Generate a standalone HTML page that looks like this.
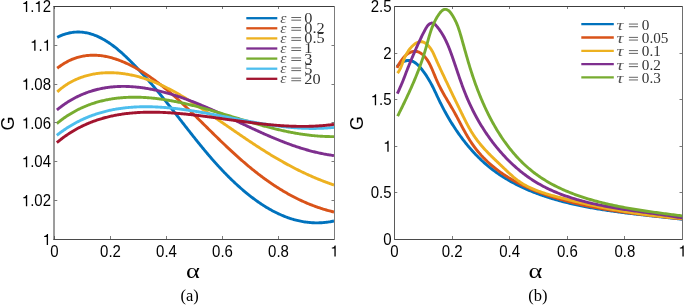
<!DOCTYPE html><html><head><meta charset="utf-8"><style>html,body{margin:0;padding:0;background:#fff;}svg{display:block;will-change:transform}</style></head><body><svg width="685" height="306" viewBox="0 0 685 306"><defs><clipPath id="cl"><rect x="54" y="6" width="280" height="233"/></clipPath><clipPath id="cr"><rect x="394" y="6" width="288" height="233"/></clipPath></defs><g clip-path="url(#cl)" fill="none" stroke-width="2.9" stroke-linejoin="round"><polyline stroke="#0072BD" points="57.24,37.35 58.45,36.75 59.66,36.19 60.85,35.67 62.05,35.18 63.24,34.73 64.42,34.32 65.60,33.94 66.77,33.60 67.94,33.30 69.10,33.02 70.26,32.79 71.41,32.58 72.55,32.41 73.70,32.27 74.83,32.17 75.96,32.09 77.09,32.05 78.21,32.03 79.33,32.05 80.44,32.09 81.55,32.17 82.65,32.27 83.74,32.40 84.83,32.56 85.92,32.74 87.00,32.95 88.08,33.19 89.15,33.45 90.22,33.73 91.28,34.04 92.33,34.38 93.39,34.74 94.43,35.12 95.48,35.52 96.51,35.95 97.54,36.39 98.57,36.86 99.60,37.34 100.61,37.85 101.63,38.38 102.64,38.92 103.64,39.48 104.64,40.06 105.63,40.66 106.62,41.28 107.61,41.91 108.59,42.55 109.56,43.22 110.53,43.89 111.50,44.58 112.46,45.29 113.42,46.00 114.37,46.73 115.32,47.47 116.26,48.23 117.20,48.99 118.14,49.77 119.07,50.55 119.99,51.35 120.91,52.15 121.83,52.96 122.74,53.78 123.65,54.61 124.55,55.45 125.45,56.29 126.34,57.14 127.23,57.99 128.12,58.85 129.00,59.71 129.88,60.58 130.75,61.45 131.62,62.32 132.48,63.20 133.34,64.08 134.19,64.96 135.04,65.84 135.89,66.72 136.73,67.61 137.57,68.49 138.41,69.38 139.24,70.27 140.07,71.16 140.89,72.05 141.71,72.94 142.52,73.84 143.34,74.73 144.15,75.63 144.95,76.53 145.75,77.43 146.55,78.33 147.35,79.23 148.14,80.14 148.93,81.04 149.72,81.95 150.50,82.85 151.29,83.76 152.06,84.67 152.84,85.58 153.61,86.49 154.38,87.41 155.15,88.32 155.92,89.23 156.68,90.15 157.44,91.06 158.20,91.98 158.96,92.90 159.72,93.82 160.47,94.74 161.22,95.66 161.97,96.58 162.72,97.50 163.46,98.42 164.21,99.35 164.95,100.27 165.69,101.20 166.43,102.12 167.17,103.05 167.91,103.97 168.64,104.90 169.38,105.83 170.11,106.75 170.84,107.68 171.58,108.61 172.31,109.54 173.04,110.47 173.77,111.40 174.50,112.33 175.22,113.26 175.95,114.19 176.68,115.12 177.41,116.05 178.13,116.99 178.86,117.92 179.59,118.85 180.31,119.78 181.04,120.71 181.76,121.65 182.49,122.58 183.22,123.51 183.94,124.44 184.67,125.38 185.40,126.31 186.13,127.24 186.86,128.17 187.58,129.10 188.31,130.04 189.04,130.97 189.78,131.90 190.51,132.83 191.24,133.76 191.97,134.69 192.71,135.61 193.44,136.54 194.18,137.47 194.92,138.39 195.65,139.32 196.39,140.24 197.13,141.17 197.88,142.09 198.62,143.01 199.36,143.93 200.11,144.85 200.86,145.76 201.61,146.68 202.36,147.59 203.11,148.51 203.87,149.42 204.62,150.33 205.38,151.23 206.14,152.14 206.90,153.05 207.67,153.95 208.43,154.85 209.20,155.75 209.97,156.65 210.74,157.54 211.52,158.43 212.29,159.33 213.07,160.21 213.86,161.10 214.64,161.99 215.43,162.87 216.22,163.75 217.01,164.62 217.80,165.50 218.60,166.37 219.40,167.24 220.21,168.11 221.01,168.97 221.82,169.83 222.63,170.69 223.45,171.55 224.27,172.40 225.09,173.25 225.92,174.09 226.74,174.94 227.58,175.78 228.41,176.61 229.25,177.45 230.09,178.28 230.94,179.10 231.79,179.93 232.64,180.75 233.50,181.56 234.36,182.38 235.22,183.19 236.09,183.99 236.97,184.79 237.84,185.59 238.72,186.38 239.61,187.17 240.50,187.96 241.39,188.74 242.29,189.52 243.19,190.29 244.10,191.06 245.01,191.82 245.92,192.59 246.84,193.34 247.77,194.09 248.70,194.84 249.63,195.58 250.57,196.31 251.51,197.04 252.46,197.76 253.41,198.48 254.36,199.19 255.32,199.89 256.28,200.59 257.25,201.28 258.22,201.96 259.20,202.63 260.18,203.30 261.17,203.96 262.16,204.61 263.15,205.26 264.15,205.89 265.15,206.52 266.16,207.14 267.17,207.75 268.18,208.35 269.20,208.94 270.22,209.52 271.25,210.10 272.28,210.66 273.32,211.21 274.36,211.75 275.40,212.29 276.45,212.81 277.50,213.32 278.56,213.82 279.62,214.30 280.69,214.78 281.76,215.25 282.83,215.70 283.91,216.14 284.99,216.57 286.08,216.99 287.16,217.39 288.26,217.78 289.36,218.16 290.46,218.52 291.56,218.88 292.67,219.21 293.79,219.54 294.91,219.85 296.03,220.15 297.16,220.43 298.29,220.70 299.42,220.95 300.56,221.19 301.70,221.41 302.85,221.62 304.00,221.81 305.15,221.98 306.31,222.15 307.47,222.29 308.64,222.42 309.81,222.53 310.98,222.62 312.16,222.70 313.34,222.76 314.52,222.81 315.71,222.83 316.91,222.84 318.10,222.83 319.30,222.80 320.51,222.76 321.72,222.70 322.93,222.61 324.15,222.51 325.37,222.39 326.59,222.25 327.82,222.09 329.05,221.91 330.29,221.72 331.52,221.50 332.77,221.26 334.01,221.00"/><polyline stroke="#D95319" points="57.23,68.26 58.23,67.48 59.23,66.72 60.24,65.99 61.25,65.28 62.26,64.60 63.27,63.95 64.29,63.32 65.31,62.72 66.33,62.15 67.35,61.60 68.38,61.07 69.40,60.57 70.43,60.09 71.46,59.64 72.49,59.21 73.52,58.80 74.56,58.42 75.59,58.06 76.63,57.72 77.67,57.40 78.71,57.11 79.75,56.84 80.79,56.59 81.84,56.36 82.88,56.16 83.92,55.97 84.97,55.81 86.01,55.66 87.06,55.54 88.11,55.44 89.16,55.35 90.20,55.29 91.25,55.24 92.30,55.21 93.35,55.21 94.39,55.22 95.44,55.25 96.49,55.29 97.54,55.36 98.59,55.44 99.63,55.54 100.68,55.65 101.72,55.78 102.77,55.93 103.81,56.10 104.86,56.28 105.90,56.48 106.94,56.69 107.98,56.92 109.02,57.16 110.06,57.41 111.10,57.68 112.14,57.97 113.17,58.27 114.21,58.58 115.24,58.91 116.27,59.25 117.30,59.60 118.32,59.96 119.35,60.34 120.37,60.73 121.39,61.13 122.41,61.54 123.43,61.97 124.44,62.40 125.45,62.85 126.46,63.31 127.47,63.77 128.48,64.25 129.48,64.74 130.48,65.23 131.47,65.74 132.47,66.25 133.46,66.78 134.45,67.31 135.43,67.85 136.41,68.40 137.39,68.95 138.36,69.52 139.34,70.09 140.30,70.67 141.27,71.25 142.23,71.84 143.18,72.44 144.14,73.05 145.09,73.66 146.03,74.27 146.97,74.89 147.91,75.52 148.84,76.15 149.77,76.78 150.70,77.42 151.62,78.07 152.54,78.72 153.45,79.37 154.36,80.03 155.27,80.70 156.17,81.36 157.07,82.04 157.96,82.71 158.86,83.39 159.74,84.08 160.63,84.77 161.51,85.46 162.39,86.16 163.27,86.86 164.14,87.56 165.01,88.27 165.88,88.98 166.74,89.69 167.61,90.41 168.47,91.13 169.32,91.86 170.18,92.58 171.03,93.31 171.88,94.05 172.72,94.78 173.57,95.52 174.41,96.27 175.25,97.01 176.08,97.76 176.92,98.51 177.75,99.26 178.58,100.02 179.41,100.77 180.24,101.53 181.06,102.29 181.89,103.06 182.71,103.82 183.53,104.59 184.35,105.36 185.16,106.13 185.98,106.91 186.79,107.68 187.60,108.46 188.41,109.23 189.22,110.01 190.03,110.79 190.84,111.58 191.65,112.36 192.45,113.14 193.25,113.93 194.06,114.71 194.86,115.50 195.66,116.29 196.46,117.08 197.26,117.87 198.06,118.65 198.86,119.44 199.66,120.24 200.46,121.03 201.26,121.82 202.05,122.61 202.85,123.40 203.65,124.19 204.44,124.98 205.24,125.77 206.04,126.56 206.83,127.36 207.63,128.15 208.43,128.94 209.23,129.73 210.02,130.51 210.82,131.30 211.62,132.09 212.42,132.88 213.22,133.66 214.01,134.45 214.81,135.23 215.61,136.01 216.42,136.80 217.22,137.58 218.02,138.36 218.82,139.14 219.62,139.91 220.43,140.69 221.23,141.47 222.04,142.24 222.85,143.01 223.65,143.78 224.46,144.55 225.27,145.32 226.08,146.09 226.89,146.85 227.70,147.62 228.51,148.38 229.33,149.14 230.14,149.90 230.96,150.65 231.77,151.41 232.59,152.16 233.41,152.91 234.23,153.66 235.05,154.41 235.87,155.15 236.70,155.89 237.52,156.63 238.35,157.37 239.18,158.11 240.01,158.84 240.84,159.57 241.67,160.30 242.50,161.02 243.34,161.75 244.18,162.47 245.01,163.19 245.85,163.90 246.70,164.61 247.54,165.32 248.38,166.03 249.23,166.74 250.08,167.44 250.93,168.14 251.78,168.83 252.64,169.52 253.49,170.21 254.35,170.90 255.21,171.58 256.07,172.26 256.93,172.94 257.80,173.61 258.67,174.28 259.54,174.95 260.41,175.61 261.28,176.27 262.16,176.92 263.04,177.58 263.92,178.22 264.80,178.87 265.69,179.51 266.58,180.15 267.47,180.78 268.36,181.41 269.25,182.04 270.15,182.66 271.05,183.27 271.95,183.89 272.86,184.50 273.76,185.10 274.67,185.70 275.59,186.30 276.50,186.89 277.42,187.48 278.34,188.06 279.26,188.64 280.19,189.22 281.12,189.79 282.05,190.35 282.98,190.92 283.92,191.47 284.86,192.02 285.80,192.57 286.75,193.11 287.70,193.65 288.65,194.18 289.61,194.71 290.57,195.23 291.53,195.75 292.49,196.26 293.46,196.77 294.43,197.27 295.41,197.77 296.38,198.26 297.37,198.74 298.35,199.22 299.34,199.70 300.33,200.17 301.32,200.63 302.32,201.09 303.32,201.54 304.33,201.99 305.34,202.43 306.35,202.87 307.36,203.30 308.38,203.72 309.41,204.14 310.43,204.55 311.46,204.96 312.50,205.36 313.54,205.75 314.58,206.14 315.62,206.52 316.67,206.90 317.73,207.27 318.78,207.63 319.84,207.99 320.91,208.34 321.98,208.68 323.05,209.02 324.13,209.35 325.21,209.67 326.30,209.99 327.39,210.30 328.48,210.61 329.58,210.91 330.68,211.20 331.79,211.48 332.90,211.76 334.02,212.03"/><polyline stroke="#EDB120" points="57.28,91.81 58.12,91.05 58.96,90.32 59.81,89.60 60.67,88.89 61.53,88.20 62.40,87.53 63.28,86.88 64.16,86.24 65.05,85.62 65.95,85.02 66.85,84.43 67.76,83.85 68.67,83.30 69.59,82.75 70.52,82.23 71.45,81.72 72.39,81.22 73.33,80.74 74.28,80.28 75.23,79.83 76.18,79.39 77.14,78.97 78.11,78.57 79.08,78.18 80.06,77.80 81.03,77.44 82.02,77.09 83.00,76.76 83.99,76.44 84.99,76.13 85.98,75.84 86.98,75.56 87.99,75.30 88.99,75.05 90.00,74.81 91.02,74.59 92.03,74.38 93.05,74.18 94.07,73.99 95.09,73.82 96.12,73.66 97.14,73.51 98.17,73.38 99.20,73.26 100.24,73.15 101.27,73.05 102.30,72.97 103.34,72.89 104.38,72.83 105.41,72.78 106.45,72.74 107.49,72.71 108.53,72.70 109.57,72.69 110.62,72.70 111.66,72.72 112.70,72.75 113.74,72.79 114.78,72.84 115.82,72.90 116.86,72.97 117.90,73.05 118.94,73.14 119.97,73.25 121.01,73.36 122.05,73.48 123.08,73.61 124.11,73.75 125.14,73.91 126.17,74.07 127.20,74.24 128.23,74.42 129.25,74.60 130.27,74.80 131.29,75.01 132.30,75.22 133.32,75.45 134.33,75.68 135.34,75.92 136.34,76.17 137.35,76.43 138.34,76.70 139.34,76.97 140.34,77.25 141.33,77.54 142.32,77.84 143.30,78.15 144.29,78.46 145.27,78.78 146.24,79.11 147.22,79.44 148.19,79.78 149.16,80.13 150.13,80.49 151.10,80.85 152.06,81.22 153.02,81.60 153.98,81.98 154.93,82.37 155.89,82.76 156.84,83.16 157.79,83.57 158.73,83.98 159.68,84.40 160.62,84.83 161.56,85.26 162.49,85.69 163.43,86.13 164.36,86.58 165.29,87.03 166.22,87.49 167.15,87.95 168.07,88.42 168.99,88.89 169.91,89.36 170.83,89.84 171.75,90.33 172.66,90.82 173.57,91.31 174.48,91.81 175.39,92.31 176.29,92.81 177.20,93.32 178.10,93.84 179.00,94.35 179.90,94.87 180.80,95.40 181.69,95.92 182.58,96.45 183.48,96.98 184.37,97.52 185.25,98.06 186.14,98.60 187.02,99.14 187.91,99.69 188.79,100.24 189.67,100.79 190.55,101.34 191.42,101.90 192.30,102.45 193.17,103.01 194.05,103.57 194.92,104.14 195.79,104.70 196.65,105.26 197.52,105.83 198.39,106.40 199.25,106.97 200.11,107.54 200.97,108.11 201.83,108.68 202.69,109.25 203.55,109.83 204.40,110.40 205.26,110.97 206.11,111.55 206.97,112.12 207.82,112.70 208.67,113.27 209.52,113.85 210.37,114.43 211.22,115.01 212.06,115.58 212.91,116.16 213.75,116.74 214.60,117.32 215.44,117.90 216.29,118.47 217.13,119.05 217.97,119.63 218.81,120.21 219.65,120.79 220.49,121.37 221.33,121.95 222.17,122.53 223.01,123.11 223.85,123.69 224.69,124.27 225.52,124.85 226.36,125.42 227.20,126.00 228.03,126.58 228.87,127.16 229.71,127.74 230.54,128.31 231.38,128.89 232.22,129.47 233.05,130.05 233.89,130.62 234.73,131.20 235.56,131.77 236.40,132.35 237.24,132.92 238.07,133.50 238.91,134.07 239.75,134.64 240.58,135.21 241.42,135.78 242.26,136.35 243.10,136.92 243.94,137.49 244.78,138.06 245.62,138.63 246.46,139.20 247.30,139.76 248.14,140.33 248.99,140.89 249.83,141.45 250.67,142.02 251.52,142.58 252.37,143.14 253.21,143.70 254.06,144.25 254.91,144.81 255.76,145.37 256.61,145.92 257.46,146.47 258.31,147.02 259.16,147.58 260.02,148.12 260.87,148.67 261.73,149.22 262.59,149.76 263.45,150.31 264.31,150.85 265.17,151.39 266.03,151.93 266.90,152.47 267.77,153.01 268.63,153.54 269.50,154.07 270.37,154.61 271.24,155.14 272.12,155.66 272.99,156.19 273.87,156.71 274.75,157.24 275.63,157.76 276.51,158.28 277.40,158.80 278.28,159.31 279.17,159.83 280.06,160.34 280.95,160.85 281.85,161.35 282.74,161.86 283.64,162.36 284.54,162.87 285.44,163.36 286.34,163.86 287.25,164.36 288.16,164.85 289.07,165.34 289.98,165.83 290.90,166.32 291.82,166.80 292.74,167.28 293.66,167.76 294.59,168.24 295.51,168.71 296.44,169.18 297.38,169.65 298.31,170.12 299.25,170.58 300.19,171.04 301.13,171.50 302.08,171.96 303.03,172.41 303.98,172.86 304.94,173.31 305.89,173.76 306.85,174.20 307.82,174.64 308.78,175.08 309.75,175.51 310.73,175.94 311.70,176.37 312.68,176.80 313.66,177.22 314.65,177.64 315.64,178.06 316.63,178.47 317.62,178.88 318.62,179.29 319.62,179.69 320.63,180.09 321.64,180.49 322.65,180.89 323.67,181.28 324.69,181.66 325.71,182.05 326.73,182.43 327.77,182.81 328.80,183.18 329.84,183.55 330.88,183.92 331.92,184.29 332.97,184.65 334.03,185.00"/><polyline stroke="#7E2F8E" points="56.83,109.99 57.69,109.30 58.54,108.61 59.40,107.94 60.26,107.28 61.12,106.63 61.99,105.99 62.85,105.36 63.72,104.75 64.59,104.14 65.46,103.55 66.34,102.97 67.21,102.40 68.09,101.84 68.97,101.30 69.85,100.76 70.73,100.24 71.62,99.72 72.50,99.22 73.39,98.73 74.28,98.24 75.17,97.77 76.07,97.31 76.96,96.86 77.86,96.42 78.76,95.99 79.65,95.57 80.56,95.17 81.46,94.77 82.36,94.38 83.27,94.00 84.18,93.63 85.09,93.28 86.00,92.93 86.91,92.59 87.82,92.26 88.73,91.94 89.65,91.63 90.57,91.33 91.49,91.04 92.41,90.76 93.33,90.49 94.25,90.23 95.17,89.98 96.10,89.74 97.02,89.50 97.95,89.28 98.88,89.06 99.81,88.85 100.74,88.66 101.67,88.47 102.60,88.29 103.53,88.11 104.47,87.95 105.40,87.80 106.34,87.65 107.28,87.51 108.22,87.38 109.16,87.26 110.10,87.15 111.04,87.05 111.98,86.95 112.92,86.86 113.86,86.78 114.81,86.71 115.75,86.64 116.70,86.59 117.64,86.54 118.59,86.50 119.54,86.46 120.49,86.44 121.44,86.42 122.39,86.41 123.34,86.40 124.29,86.41 125.24,86.42 126.19,86.44 127.14,86.46 128.09,86.49 129.05,86.53 130.00,86.58 130.95,86.63 131.91,86.69 132.86,86.76 133.82,86.83 134.77,86.91 135.73,87.00 136.68,87.09 137.64,87.19 138.60,87.29 139.55,87.40 140.51,87.52 141.47,87.65 142.42,87.78 143.38,87.91 144.34,88.05 145.30,88.20 146.25,88.36 147.21,88.52 148.17,88.68 149.13,88.85 150.08,89.03 151.04,89.21 152.00,89.40 152.95,89.59 153.91,89.79 154.87,89.99 155.83,90.20 156.78,90.42 157.74,90.63 158.69,90.86 159.65,91.09 160.61,91.32 161.56,91.56 162.52,91.80 163.47,92.05 164.43,92.30 165.38,92.56 166.33,92.82 167.29,93.09 168.24,93.36 169.19,93.63 170.14,93.91 171.10,94.20 172.05,94.48 173.00,94.77 173.95,95.07 174.89,95.37 175.84,95.67 176.79,95.98 177.74,96.29 178.69,96.60 179.63,96.92 180.58,97.24 181.52,97.57 182.46,97.90 183.41,98.23 184.35,98.56 185.29,98.90 186.23,99.24 187.17,99.59 188.11,99.94 189.05,100.29 189.98,100.64 190.92,101.00 191.85,101.35 192.79,101.72 193.72,102.08 194.65,102.45 195.58,102.82 196.51,103.19 197.44,103.56 198.37,103.94 199.30,104.32 200.23,104.70 201.15,105.09 202.08,105.47 203.00,105.86 203.93,106.25 204.85,106.64 205.77,107.04 206.69,107.43 207.62,107.83 208.54,108.23 209.46,108.63 210.38,109.03 211.29,109.44 212.21,109.85 213.13,110.25 214.05,110.66 214.96,111.07 215.88,111.49 216.79,111.90 217.71,112.31 218.62,112.73 219.53,113.15 220.45,113.56 221.36,113.98 222.27,114.40 223.18,114.82 224.10,115.24 225.01,115.67 225.92,116.09 226.83,116.51 227.74,116.94 228.65,117.36 229.56,117.79 230.46,118.22 231.37,118.64 232.28,119.07 233.19,119.50 234.10,119.92 235.00,120.35 235.91,120.78 236.82,121.21 237.73,121.63 238.63,122.06 239.54,122.49 240.45,122.92 241.35,123.35 242.26,123.77 243.16,124.20 244.07,124.63 244.98,125.05 245.88,125.48 246.79,125.90 247.69,126.33 248.60,126.75 249.51,127.17 250.41,127.60 251.32,128.02 252.22,128.44 253.13,128.86 254.04,129.28 254.94,129.69 255.85,130.11 256.75,130.53 257.66,130.94 258.57,131.35 259.48,131.77 260.38,132.18 261.29,132.58 262.20,132.99 263.11,133.40 264.01,133.80 264.92,134.21 265.83,134.61 266.74,135.01 267.65,135.40 268.56,135.80 269.47,136.19 270.38,136.58 271.29,136.97 272.20,137.36 273.11,137.75 274.02,138.13 274.94,138.51 275.85,138.89 276.76,139.27 277.68,139.64 278.59,140.01 279.51,140.38 280.42,140.75 281.34,141.11 282.25,141.47 283.17,141.83 284.09,142.19 285.01,142.54 285.93,142.89 286.85,143.24 287.77,143.58 288.69,143.92 289.61,144.26 290.53,144.60 291.45,144.93 292.38,145.26 293.30,145.58 294.23,145.90 295.15,146.22 296.08,146.53 297.01,146.84 297.94,147.15 298.86,147.45 299.79,147.75 300.73,148.05 301.66,148.34 302.59,148.63 303.52,148.92 304.46,149.20 305.39,149.47 306.33,149.74 307.27,150.01 308.21,150.27 309.15,150.53 310.09,150.79 311.03,151.04 311.97,151.29 312.91,151.53 313.86,151.76 314.80,152.00 315.75,152.23 316.70,152.45 317.65,152.67 318.60,152.88 319.55,153.09 320.50,153.29 321.46,153.49 322.41,153.68 323.37,153.87 324.32,154.06 325.28,154.23 326.24,154.41 327.20,154.57 328.17,154.74 329.13,154.89 330.10,155.04 331.06,155.19 332.03,155.33 333.00,155.46 333.97,155.59"/><polyline stroke="#77AC30" points="56.85,123.52 57.68,122.84 58.50,122.18 59.33,121.52 60.16,120.88 61.00,120.24 61.83,119.62 62.67,119.00 63.51,118.40 64.35,117.80 65.20,117.22 66.04,116.64 66.89,116.08 67.75,115.52 68.60,114.97 69.46,114.44 70.31,113.91 71.18,113.39 72.04,112.88 72.90,112.38 73.77,111.89 74.64,111.41 75.51,110.94 76.38,110.48 77.26,110.02 78.13,109.58 79.01,109.14 79.89,108.71 80.78,108.30 81.66,107.89 82.55,107.49 83.43,107.09 84.32,106.71 85.22,106.34 86.11,105.97 87.00,105.61 87.90,105.26 88.80,104.92 89.70,104.59 90.60,104.26 91.50,103.95 92.41,103.64 93.31,103.34 94.22,103.04 95.13,102.76 96.04,102.48 96.95,102.21 97.87,101.95 98.78,101.70 99.70,101.45 100.61,101.21 101.53,100.98 102.45,100.76 103.37,100.54 104.30,100.33 105.22,100.13 106.14,99.94 107.07,99.75 108.00,99.57 108.92,99.40 109.85,99.23 110.78,99.07 111.71,98.92 112.65,98.78 113.58,98.64 114.51,98.51 115.45,98.38 116.38,98.26 117.32,98.15 118.26,98.04 119.20,97.95 120.14,97.85 121.08,97.77 122.02,97.69 122.96,97.61 123.90,97.55 124.84,97.48 125.78,97.43 126.73,97.38 127.67,97.34 128.62,97.30 129.56,97.27 130.51,97.24 131.46,97.22 132.40,97.21 133.35,97.20 134.30,97.19 135.25,97.19 136.19,97.20 137.14,97.22 138.09,97.23 139.04,97.26 139.99,97.29 140.94,97.32 141.89,97.36 142.84,97.40 143.79,97.45 144.74,97.50 145.69,97.56 146.64,97.63 147.59,97.69 148.54,97.77 149.50,97.85 150.45,97.93 151.40,98.01 152.35,98.11 153.30,98.20 154.25,98.30 155.20,98.41 156.15,98.51 157.10,98.63 158.05,98.74 159.00,98.86 159.95,98.99 160.89,99.12 161.84,99.25 162.79,99.39 163.74,99.53 164.69,99.67 165.63,99.82 166.58,99.97 167.52,100.13 168.47,100.29 169.41,100.45 170.36,100.61 171.30,100.78 172.25,100.95 173.19,101.13 174.13,101.31 175.07,101.49 176.01,101.68 176.95,101.86 177.89,102.05 178.83,102.25 179.77,102.44 180.70,102.64 181.64,102.85 182.58,103.05 183.51,103.26 184.45,103.47 185.38,103.68 186.32,103.90 187.25,104.12 188.18,104.34 189.12,104.56 190.05,104.78 190.98,105.01 191.91,105.24 192.84,105.47 193.77,105.71 194.70,105.94 195.63,106.18 196.56,106.42 197.49,106.66 198.42,106.91 199.34,107.15 200.27,107.40 201.20,107.65 202.13,107.90 203.05,108.15 203.98,108.41 204.90,108.66 205.83,108.92 206.75,109.18 207.68,109.44 208.60,109.70 209.53,109.96 210.45,110.23 211.37,110.49 212.30,110.76 213.22,111.03 214.14,111.29 215.07,111.56 215.99,111.83 216.91,112.11 217.83,112.38 218.75,112.65 219.68,112.92 220.60,113.20 221.52,113.47 222.44,113.75 223.36,114.03 224.28,114.30 225.20,114.58 226.12,114.86 227.05,115.14 227.97,115.41 228.89,115.69 229.81,115.97 230.73,116.25 231.65,116.53 232.57,116.81 233.49,117.09 234.41,117.37 235.33,117.65 236.25,117.92 237.17,118.20 238.09,118.48 239.01,118.76 239.93,119.04 240.85,119.31 241.77,119.59 242.69,119.87 243.61,120.14 244.54,120.42 245.46,120.69 246.38,120.97 247.30,121.24 248.22,121.51 249.14,121.78 250.06,122.06 250.99,122.33 251.91,122.59 252.83,122.86 253.75,123.13 254.68,123.39 255.60,123.66 256.52,123.92 257.44,124.18 258.37,124.44 259.29,124.70 260.22,124.96 261.14,125.22 262.07,125.47 262.99,125.73 263.92,125.98 264.84,126.23 265.77,126.47 266.69,126.72 267.62,126.97 268.55,127.21 269.48,127.45 270.40,127.69 271.33,127.92 272.26,128.16 273.19,128.39 274.12,128.62 275.05,128.85 275.98,129.08 276.91,129.30 277.84,129.52 278.77,129.74 279.71,129.96 280.64,130.17 281.57,130.38 282.51,130.59 283.44,130.79 284.38,131.00 285.31,131.20 286.25,131.40 287.18,131.59 288.12,131.78 289.06,131.97 290.00,132.16 290.94,132.34 291.88,132.52 292.82,132.70 293.76,132.87 294.70,133.04 295.64,133.21 296.58,133.37 297.53,133.53 298.47,133.68 299.42,133.84 300.36,133.99 301.31,134.13 302.25,134.27 303.20,134.41 304.15,134.55 305.10,134.68 306.05,134.81 307.00,134.93 307.95,135.05 308.90,135.16 309.86,135.27 310.81,135.38 311.77,135.48 312.72,135.58 313.68,135.68 314.64,135.77 315.59,135.85 316.55,135.93 317.51,136.01 318.47,136.08 319.44,136.15 320.40,136.21 321.36,136.27 322.33,136.32 323.29,136.37 324.26,136.42 325.23,136.46 326.19,136.49 327.16,136.52 328.13,136.55 329.11,136.57 330.08,136.58 331.05,136.59 332.03,136.59 333.00,136.59 333.98,136.58"/><polyline stroke="#4DBEEE" points="56.84,135.31 57.67,134.66 58.50,134.02 59.33,133.39 60.16,132.76 61.00,132.15 61.83,131.54 62.67,130.95 63.51,130.36 64.35,129.78 65.20,129.20 66.04,128.64 66.89,128.09 67.74,127.54 68.59,127.00 69.44,126.47 70.29,125.95 71.15,125.44 72.01,124.93 72.87,124.43 73.73,123.95 74.59,123.46 75.45,122.99 76.32,122.53 77.18,122.07 78.05,121.62 78.92,121.18 79.79,120.75 80.66,120.32 81.54,119.90 82.41,119.49 83.29,119.09 84.17,118.69 85.05,118.30 85.93,117.92 86.81,117.55 87.70,117.18 88.58,116.82 89.47,116.47 90.36,116.13 91.25,115.79 92.14,115.46 93.03,115.14 93.92,114.82 94.82,114.51 95.71,114.21 96.61,113.91 97.51,113.62 98.41,113.34 99.31,113.07 100.21,112.80 101.11,112.53 102.02,112.28 102.92,112.03 103.83,111.79 104.74,111.55 105.64,111.32 106.55,111.10 107.46,110.88 108.37,110.67 109.29,110.46 110.20,110.26 111.11,110.07 112.03,109.88 112.95,109.70 113.86,109.53 114.78,109.36 115.70,109.19 116.62,109.03 117.54,108.88 118.46,108.73 119.38,108.59 120.31,108.46 121.23,108.33 122.15,108.20 123.08,108.09 124.00,107.97 124.93,107.86 125.86,107.76 126.79,107.66 127.72,107.57 128.65,107.48 129.58,107.40 130.51,107.32 131.44,107.25 132.37,107.18 133.30,107.12 134.23,107.06 135.17,107.01 136.10,106.96 137.04,106.92 137.97,106.88 138.91,106.84 139.84,106.81 140.78,106.79 141.72,106.77 142.66,106.75 143.59,106.74 144.53,106.73 145.47,106.73 146.41,106.73 147.35,106.73 148.29,106.74 149.23,106.75 150.17,106.77 151.11,106.79 152.05,106.81 152.99,106.84 153.93,106.87 154.87,106.91 155.82,106.95 156.76,106.99 157.70,107.04 158.64,107.09 159.59,107.15 160.53,107.20 161.47,107.26 162.41,107.33 163.36,107.40 164.30,107.47 165.24,107.54 166.19,107.62 167.13,107.70 168.07,107.78 169.02,107.87 169.96,107.96 170.90,108.05 171.84,108.15 172.79,108.25 173.73,108.35 174.67,108.45 175.62,108.56 176.56,108.67 177.50,108.78 178.44,108.89 179.39,109.01 180.33,109.13 181.27,109.25 182.21,109.38 183.15,109.50 184.10,109.63 185.04,109.76 185.98,109.89 186.92,110.03 187.86,110.17 188.80,110.31 189.74,110.45 190.69,110.59 191.63,110.74 192.57,110.88 193.51,111.03 194.45,111.18 195.39,111.34 196.33,111.49 197.27,111.65 198.21,111.80 199.15,111.96 200.10,112.12 201.04,112.28 201.98,112.45 202.92,112.61 203.86,112.78 204.80,112.94 205.74,113.11 206.68,113.28 207.62,113.45 208.56,113.62 209.50,113.80 210.44,113.97 211.38,114.15 212.32,114.32 213.26,114.50 214.20,114.67 215.14,114.85 216.08,115.03 217.02,115.21 217.96,115.39 218.90,115.57 219.84,115.75 220.78,115.93 221.72,116.11 222.66,116.30 223.60,116.48 224.54,116.66 225.48,116.84 226.42,117.03 227.36,117.21 228.30,117.39 229.24,117.58 230.18,117.76 231.12,117.94 232.06,118.13 233.00,118.31 233.94,118.49 234.88,118.68 235.82,118.86 236.76,119.04 237.70,119.22 238.64,119.40 239.58,119.58 240.52,119.77 241.46,119.95 242.40,120.12 243.34,120.30 244.28,120.48 245.22,120.66 246.16,120.83 247.10,121.01 248.04,121.18 248.98,121.36 249.92,121.53 250.86,121.70 251.80,121.87 252.74,122.04 253.68,122.21 254.62,122.38 255.56,122.54 256.50,122.71 257.44,122.87 258.38,123.03 259.33,123.20 260.27,123.35 261.21,123.51 262.15,123.67 263.09,123.82 264.03,123.97 264.97,124.13 265.91,124.27 266.85,124.42 267.79,124.57 268.74,124.71 269.68,124.85 270.62,124.99 271.56,125.13 272.50,125.27 273.44,125.40 274.39,125.53 275.33,125.66 276.27,125.79 277.21,125.91 278.16,126.03 279.10,126.15 280.04,126.27 280.98,126.38 281.92,126.50 282.87,126.60 283.81,126.71 284.75,126.82 285.70,126.92 286.64,127.02 287.58,127.11 288.53,127.20 289.47,127.29 290.41,127.38 291.36,127.47 292.30,127.55 293.24,127.62 294.19,127.70 295.13,127.77 296.08,127.84 297.02,127.90 297.97,127.97 298.91,128.02 299.86,128.08 300.80,128.13 301.75,128.18 302.69,128.22 303.64,128.26 304.58,128.30 305.53,128.33 306.47,128.36 307.42,128.39 308.37,128.41 309.31,128.43 310.26,128.44 311.20,128.45 312.15,128.46 313.10,128.46 314.04,128.46 314.99,128.45 315.94,128.44 316.89,128.42 317.83,128.40 318.78,128.38 319.73,128.35 320.68,128.32 321.63,128.28 322.58,128.24 323.52,128.20 324.47,128.15 325.42,128.09 326.37,128.03 327.32,127.96 328.27,127.89 329.22,127.82 330.17,127.74 331.12,127.66 332.07,127.57 333.02,127.47 333.97,127.37"/><polyline stroke="#A2142F" points="56.87,142.62 57.67,141.96 58.47,141.30 59.27,140.65 60.07,140.01 60.88,139.38 61.69,138.75 62.50,138.14 63.31,137.54 64.13,136.94 64.95,136.35 65.77,135.77 66.59,135.20 67.41,134.64 68.24,134.09 69.07,133.54 69.90,133.00 70.73,132.48 71.57,131.96 72.41,131.44 73.25,130.94 74.09,130.44 74.93,129.96 75.78,129.48 76.62,129.00 77.47,128.54 78.32,128.08 79.18,127.63 80.03,127.19 80.89,126.76 81.75,126.33 82.61,125.92 83.47,125.50 84.34,125.10 85.20,124.71 86.07,124.32 86.94,123.94 87.81,123.56 88.68,123.19 89.56,122.83 90.43,122.48 91.31,122.14 92.19,121.80 93.07,121.47 93.96,121.14 94.84,120.82 95.73,120.51 96.61,120.21 97.50,119.91 98.39,119.62 99.29,119.33 100.18,119.05 101.07,118.78 101.97,118.52 102.87,118.26 103.77,118.00 104.67,117.76 105.57,117.52 106.47,117.28 107.38,117.05 108.28,116.83 109.19,116.61 110.10,116.40 111.01,116.20 111.92,116.00 112.83,115.81 113.74,115.62 114.66,115.44 115.57,115.26 116.49,115.09 117.40,114.92 118.32,114.76 119.24,114.61 120.16,114.46 121.09,114.32 122.01,114.18 122.93,114.05 123.86,113.92 124.78,113.79 125.71,113.68 126.64,113.56 127.56,113.45 128.49,113.35 129.42,113.25 130.35,113.16 131.29,113.07 132.22,112.98 133.15,112.90 134.08,112.83 135.02,112.76 135.95,112.69 136.89,112.63 137.83,112.57 138.76,112.52 139.70,112.47 140.64,112.42 141.58,112.38 142.52,112.35 143.46,112.31 144.40,112.29 145.34,112.26 146.29,112.24 147.23,112.22 148.17,112.21 149.11,112.20 150.06,112.19 151.00,112.19 151.95,112.19 152.89,112.20 153.84,112.20 154.78,112.21 155.73,112.23 156.68,112.25 157.62,112.27 158.57,112.29 159.52,112.32 160.46,112.35 161.41,112.38 162.36,112.42 163.31,112.46 164.25,112.50 165.20,112.55 166.15,112.60 167.10,112.65 168.05,112.70 169.00,112.76 169.94,112.82 170.89,112.88 171.84,112.94 172.79,113.01 173.74,113.07 174.69,113.14 175.64,113.22 176.58,113.29 177.53,113.37 178.48,113.45 179.43,113.53 180.38,113.61 181.32,113.70 182.27,113.78 183.22,113.87 184.17,113.97 185.12,114.06 186.06,114.15 187.01,114.25 187.96,114.35 188.91,114.45 189.85,114.55 190.80,114.65 191.75,114.76 192.70,114.86 193.64,114.97 194.59,115.08 195.54,115.19 196.48,115.30 197.43,115.41 198.38,115.53 199.33,115.64 200.27,115.76 201.22,115.88 202.17,116.00 203.11,116.12 204.06,116.24 205.01,116.36 205.96,116.48 206.90,116.61 207.85,116.73 208.80,116.86 209.74,116.98 210.69,117.11 211.64,117.24 212.58,117.37 213.53,117.49 214.48,117.62 215.42,117.75 216.37,117.88 217.32,118.01 218.26,118.15 219.21,118.28 220.16,118.41 221.10,118.54 222.05,118.67 223.00,118.81 223.94,118.94 224.89,119.07 225.84,119.21 226.78,119.34 227.73,119.47 228.68,119.60 229.62,119.74 230.57,119.87 231.52,120.00 232.46,120.13 233.41,120.27 234.36,120.40 235.30,120.53 236.25,120.66 237.19,120.79 238.14,120.92 239.09,121.05 240.03,121.18 240.98,121.31 241.93,121.43 242.87,121.56 243.82,121.69 244.77,121.81 245.71,121.94 246.66,122.06 247.61,122.18 248.56,122.31 249.50,122.43 250.45,122.55 251.40,122.67 252.34,122.78 253.29,122.90 254.24,123.02 255.18,123.13 256.13,123.25 257.08,123.36 258.02,123.47 258.97,123.58 259.92,123.68 260.87,123.79 261.81,123.90 262.76,124.00 263.71,124.10 264.66,124.20 265.60,124.30 266.55,124.40 267.50,124.49 268.44,124.58 269.39,124.68 270.34,124.77 271.29,124.85 272.24,124.94 273.18,125.02 274.13,125.10 275.08,125.18 276.03,125.26 276.97,125.34 277.92,125.41 278.87,125.48 279.82,125.55 280.77,125.61 281.71,125.68 282.66,125.74 283.61,125.80 284.56,125.85 285.51,125.91 286.46,125.96 287.41,126.01 288.35,126.06 289.30,126.10 290.25,126.14 291.20,126.18 292.15,126.21 293.10,126.24 294.05,126.27 295.00,126.30 295.95,126.32 296.90,126.34 297.84,126.36 298.79,126.38 299.74,126.39 300.69,126.39 301.64,126.40 302.59,126.40 303.54,126.40 304.49,126.39 305.44,126.38 306.39,126.37 307.34,126.36 308.29,126.34 309.24,126.32 310.19,126.29 311.14,126.26 312.10,126.23 313.05,126.19 314.00,126.15 314.95,126.10 315.90,126.05 316.85,126.00 317.80,125.94 318.75,125.88 319.70,125.82 320.66,125.75 321.61,125.68 322.56,125.60 323.51,125.52 324.46,125.44 325.42,125.35 326.37,125.25 327.32,125.15 328.27,125.05 329.22,124.94 330.18,124.83 331.13,124.72 332.08,124.60 333.04,124.47 333.99,124.34"/></g><g clip-path="url(#cr)" fill="none" stroke-width="2.9" stroke-linejoin="round"><polyline stroke="#0072BD" points="396.99,66.47 397.74,65.65 398.57,64.84 399.49,64.07 400.47,63.34 401.52,62.66 402.60,62.05 403.73,61.52 404.88,61.08 406.04,60.74 407.20,60.52 408.35,60.43 409.49,60.47 410.60,60.65 411.69,60.96 412.76,61.38 413.81,61.91 414.83,62.53 415.82,63.24 416.80,64.02 417.75,64.87 418.67,65.78 419.57,66.73 420.44,67.72 421.29,68.74 422.11,69.77 422.91,70.81 423.68,71.85 424.42,72.88 425.14,73.90 425.83,74.92 426.51,75.93 427.16,76.93 427.78,77.93 428.39,78.93 428.98,79.91 429.56,80.90 430.11,81.88 430.66,82.85 431.18,83.82 431.70,84.79 432.20,85.76 432.69,86.72 433.18,87.68 433.65,88.64 434.12,89.60 434.58,90.55 435.03,91.51 435.48,92.46 435.93,93.42 436.38,94.37 436.82,95.32 437.27,96.28 437.71,97.24 438.16,98.19 438.61,99.15 439.07,100.11 439.54,101.08 440.00,102.04 440.48,103.01 440.96,103.98 441.45,104.96 441.95,105.93 442.45,106.91 442.96,107.89 443.48,108.87 444.00,109.85 444.53,110.83 445.06,111.81 445.60,112.80 446.15,113.78 446.70,114.77 447.26,115.75 447.83,116.74 448.40,117.72 448.98,118.71 449.57,119.69 450.16,120.68 450.76,121.66 451.36,122.65 451.97,123.63 452.59,124.61 453.21,125.59 453.84,126.57 454.48,127.54 455.12,128.52 455.77,129.49 456.42,130.46 457.08,131.43 457.75,132.39 458.42,133.36 459.10,134.32 459.79,135.27 460.48,136.23 461.18,137.18 461.88,138.13 462.59,139.07 463.31,140.01 464.03,140.94 464.76,141.88 465.49,142.80 466.23,143.73 466.98,144.65 467.73,145.56 468.49,146.47 469.25,147.37 470.02,148.27 470.80,149.16 471.58,150.05 472.37,150.93 473.17,151.81 473.97,152.68 474.77,153.54 475.58,154.40 476.40,155.25 477.23,156.09 478.06,156.93 478.89,157.76 479.73,158.58 480.58,159.39 481.43,160.20 482.29,161.00 483.16,161.79 484.03,162.58 484.91,163.35 485.79,164.12 486.68,164.88 487.57,165.63 488.47,166.37 489.37,167.11 490.28,167.84 491.20,168.56 492.12,169.27 493.05,169.97 493.98,170.67 494.92,171.36 495.86,172.04 496.81,172.71 497.76,173.37 498.72,174.03 499.68,174.68 500.65,175.33 501.62,175.96 502.60,176.59 503.58,177.21 504.57,177.82 505.56,178.43 506.56,179.03 507.56,179.62 508.56,180.21 509.57,180.79 510.59,181.36 511.61,181.93 512.63,182.49 513.66,183.04 514.69,183.58 515.73,184.12 516.77,184.65 517.81,185.18 518.86,185.70 519.91,186.21 520.97,186.72 522.03,187.22 523.09,187.71 524.16,188.20 525.23,188.68 526.31,189.16 527.39,189.62 528.47,190.09 529.55,190.55 530.64,191.00 531.74,191.44 532.83,191.88 533.93,192.32 535.04,192.75 536.14,193.17 537.25,193.59 538.37,194.00 539.48,194.41 540.60,194.81 541.72,195.20 542.85,195.60 543.98,195.98 545.11,196.36 546.24,196.74 547.38,197.11 548.52,197.47 549.66,197.83 550.80,198.19 551.95,198.54 553.10,198.88 554.25,199.22 555.40,199.56 556.56,199.89 557.72,200.22 558.88,200.54 560.04,200.86 561.21,201.17 562.38,201.48 563.55,201.78 564.72,202.08 565.89,202.38 567.07,202.67 568.25,202.96 569.42,203.24 570.61,203.52 571.79,203.80 572.97,204.07 574.16,204.34 575.35,204.60 576.53,204.86 577.73,205.12 578.92,205.37 580.11,205.62 581.30,205.87 582.50,206.11 583.70,206.35 584.89,206.58 586.09,206.82 587.29,207.04 588.50,207.27 589.70,207.49 590.90,207.71 592.10,207.93 593.31,208.14 594.51,208.35 595.72,208.56 596.93,208.76 598.13,208.96 599.34,209.16 600.55,209.36 601.76,209.55 602.97,209.74 604.18,209.93 605.39,210.11 606.60,210.30 607.81,210.48 609.02,210.66 610.23,210.83 611.44,211.01 612.65,211.18 613.86,211.35 615.07,211.52 616.28,211.68 617.49,211.84 618.70,212.01 619.91,212.17 621.12,212.32 622.33,212.48 623.54,212.63 624.75,212.79 625.95,212.94 627.16,213.09 628.37,213.23 629.57,213.38 630.78,213.53 631.98,213.67 633.18,213.81 634.39,213.95 635.59,214.09 636.79,214.23 637.99,214.37 639.18,214.51 640.38,214.64 641.58,214.78 642.77,214.91 643.96,215.04 645.15,215.18 646.34,215.31 647.53,215.44 648.72,215.57 649.91,215.70 651.09,215.83 652.27,215.96 653.45,216.08 654.63,216.21 655.81,216.34 656.98,216.47 658.16,216.59 659.33,216.72 660.50,216.85 661.67,216.98 662.83,217.10 663.99,217.23 665.16,217.36 666.31,217.48 667.47,217.61 668.62,217.74 669.78,217.87 670.92,218.00 672.07,218.12 673.22,218.25 674.36,218.38 675.50,218.51 676.63,218.64 677.76,218.78 678.90,218.91 680.02,219.04 681.15,219.18 682.27,219.31"/><polyline stroke="#D95319" points="397.01,67.81 397.41,67.03 397.87,66.16 398.39,65.21 398.97,64.19 399.61,63.11 400.30,62.01 401.05,60.88 401.84,59.76 402.69,58.65 403.58,57.56 404.53,56.53 405.51,55.55 406.54,54.66 407.61,53.86 408.71,53.15 409.84,52.55 410.99,52.06 412.15,51.69 413.31,51.44 414.46,51.31 415.61,51.32 416.74,51.46 417.84,51.74 418.91,52.16 419.94,52.68 420.94,53.30 421.90,54.00 422.81,54.76 423.69,55.57 424.53,56.44 425.33,57.36 426.09,58.33 426.83,59.33 427.53,60.38 428.20,61.46 428.85,62.57 429.48,63.72 430.08,64.88 430.67,66.07 431.23,67.27 431.78,68.49 432.32,69.72 432.84,70.95 433.36,72.19 433.86,73.43 434.37,74.66 434.87,75.89 435.36,77.10 435.86,78.30 436.36,79.48 436.87,80.64 437.38,81.78 437.90,82.90 438.42,84.00 438.94,85.09 439.47,86.16 440.00,87.21 440.54,88.25 441.07,89.27 441.62,90.29 442.16,91.29 442.71,92.29 443.26,93.27 443.81,94.25 444.37,95.22 444.92,96.18 445.48,97.14 446.05,98.10 446.61,99.05 447.17,100.00 447.74,100.95 448.31,101.90 448.87,102.85 449.44,103.81 450.01,104.76 450.58,105.72 451.15,106.69 451.73,107.66 452.30,108.65 452.87,109.64 453.44,110.63 454.01,111.64 454.58,112.67 455.15,113.70 455.72,114.74 456.28,115.80 456.85,116.86 457.42,117.93 458.00,119.01 458.57,120.10 459.14,121.19 459.72,122.29 460.30,123.40 460.89,124.50 461.47,125.61 462.06,126.72 462.66,127.84 463.26,128.95 463.86,130.06 464.47,131.17 465.09,132.28 465.71,133.39 466.34,134.49 466.98,135.59 467.62,136.68 468.27,137.77 468.93,138.85 469.59,139.92 470.27,140.98 470.95,142.04 471.65,143.08 472.35,144.11 473.07,145.13 473.79,146.14 474.52,147.14 475.27,148.13 476.02,149.10 476.78,150.07 477.55,151.02 478.33,151.97 479.12,152.90 479.92,153.82 480.73,154.73 481.54,155.64 482.37,156.53 483.20,157.41 484.04,158.28 484.89,159.14 485.75,159.99 486.62,160.83 487.49,161.67 488.37,162.49 489.26,163.30 490.16,164.10 491.07,164.89 491.98,165.68 492.90,166.45 493.83,167.22 494.77,167.97 495.71,168.72 496.66,169.46 497.61,170.18 498.58,170.90 499.55,171.61 500.53,172.31 501.51,173.01 502.50,173.69 503.50,174.37 504.50,175.03 505.51,175.69 506.52,176.34 507.54,176.99 508.57,177.62 509.60,178.25 510.64,178.87 511.69,179.48 512.73,180.08 513.79,180.67 514.85,181.26 515.92,181.84 516.99,182.41 518.06,182.97 519.14,183.53 520.23,184.08 521.32,184.62 522.41,185.16 523.51,185.69 524.61,186.21 525.72,186.72 526.83,187.23 527.95,187.73 529.07,188.22 530.19,188.71 531.32,189.19 532.45,189.66 533.59,190.13 534.73,190.59 535.87,191.05 537.01,191.50 538.16,191.94 539.31,192.38 540.47,192.81 541.63,193.23 542.79,193.65 543.95,194.06 545.11,194.47 546.28,194.87 547.45,195.27 548.63,195.66 549.80,196.05 550.98,196.43 552.16,196.81 553.34,197.18 554.52,197.54 555.71,197.90 556.89,198.26 558.08,198.61 559.27,198.96 560.46,199.30 561.65,199.63 562.85,199.97 564.04,200.30 565.24,200.62 566.43,200.94 567.63,201.26 568.83,201.57 570.03,201.87 571.22,202.18 572.42,202.48 573.63,202.77 574.83,203.06 576.03,203.35 577.23,203.63 578.44,203.91 579.64,204.19 580.85,204.46 582.05,204.73 583.26,205.00 584.47,205.26 585.68,205.52 586.88,205.77 588.09,206.02 589.30,206.27 590.51,206.51 591.73,206.76 592.94,206.99 594.15,207.23 595.36,207.46 596.58,207.69 597.79,207.91 599.01,208.14 600.22,208.36 601.44,208.57 602.65,208.79 603.87,209.00 605.09,209.21 606.31,209.41 607.53,209.62 608.74,209.82 609.96,210.02 611.18,210.21 612.40,210.41 613.62,210.60 614.85,210.78 616.07,210.97 617.29,211.15 618.51,211.34 619.73,211.52 620.96,211.69 622.18,211.87 623.40,212.04 624.63,212.21 625.85,212.38 627.08,212.55 628.30,212.72 629.53,212.88 630.75,213.04 631.98,213.20 633.20,213.36 634.43,213.52 635.65,213.67 636.88,213.83 638.11,213.98 639.33,214.13 640.56,214.28 641.79,214.43 643.02,214.58 644.24,214.72 645.47,214.87 646.70,215.01 647.93,215.16 649.15,215.30 650.38,215.44 651.61,215.58 652.84,215.72 654.07,215.85 655.29,215.99 656.52,216.13 657.75,216.26 658.98,216.40 660.21,216.53 661.43,216.67 662.66,216.80 663.89,216.93 665.12,217.07 666.35,217.20 667.57,217.33 668.80,217.46 670.03,217.59 671.26,217.73 672.49,217.86 673.71,217.99 674.94,218.12 676.17,218.25 677.39,218.38 678.62,218.51 679.85,218.64 681.07,218.77 682.30,218.91"/><polyline stroke="#EDB120" points="397.50,73.19 398.28,72.12 398.97,71.05 399.60,69.96 400.16,68.87 400.68,67.77 401.16,66.66 401.61,65.54 402.04,64.41 402.46,63.27 402.88,62.11 403.31,60.95 403.76,59.77 404.24,58.58 404.75,57.38 405.31,56.16 405.93,54.93 406.61,53.68 407.36,52.42 408.17,51.18 409.04,49.95 409.95,48.75 410.92,47.61 411.92,46.52 412.96,45.51 414.03,44.59 415.12,43.77 416.23,43.06 417.35,42.49 418.48,42.06 419.62,41.78 420.75,41.68 421.87,41.75 422.98,42.02 424.08,42.45 425.15,43.04 426.19,43.76 427.20,44.60 428.16,45.54 429.09,46.56 429.97,47.66 430.79,48.80 431.55,49.98 432.25,51.18 432.90,52.39 433.50,53.61 434.06,54.83 434.60,56.05 435.13,57.26 435.65,58.47 436.18,59.67 436.70,60.86 437.23,62.04 437.76,63.22 438.30,64.39 438.83,65.56 439.37,66.73 439.91,67.90 440.46,69.07 441.00,70.25 441.55,71.42 442.11,72.60 442.67,73.79 443.23,74.98 443.80,76.18 444.37,77.39 444.94,78.60 445.52,79.81 446.10,81.03 446.67,82.24 447.25,83.45 447.82,84.66 448.39,85.86 448.96,87.05 449.53,88.23 450.09,89.40 450.64,90.56 451.19,91.71 451.73,92.83 452.26,93.94 452.79,95.03 453.30,96.09 453.80,97.14 454.29,98.15 454.77,99.14 455.24,100.10 455.69,101.03 456.14,101.94 456.57,102.83 457.00,103.70 457.42,104.56 457.83,105.41 458.25,106.26 458.66,107.10 459.08,107.95 459.50,108.80 459.92,109.66 460.35,110.54 460.79,111.43 461.24,112.35 461.70,113.29 462.18,114.26 462.67,115.26 463.18,116.29 463.70,117.35 464.23,118.44 464.79,119.54 465.35,120.67 465.94,121.82 466.53,122.98 467.15,124.15 467.77,125.33 468.42,126.51 469.07,127.70 469.74,128.89 470.43,130.08 471.12,131.27 471.84,132.44 472.56,133.61 473.30,134.76 474.06,135.89 474.82,137.01 475.60,138.12 476.40,139.21 477.20,140.29 478.01,141.35 478.84,142.40 479.67,143.43 480.51,144.46 481.37,145.47 482.23,146.47 483.10,147.46 483.97,148.44 484.85,149.41 485.74,150.37 486.63,151.32 487.53,152.26 488.43,153.19 489.34,154.12 490.25,155.03 491.16,155.94 492.08,156.85 493.00,157.74 493.91,158.64 494.83,159.52 495.75,160.41 496.67,161.28 497.58,162.16 498.50,163.03 499.41,163.89 500.32,164.76 501.23,165.62 502.13,166.48 503.03,167.34 503.93,168.20 504.82,169.06 505.71,169.91 506.61,170.76 507.50,171.60 508.39,172.44 509.29,173.27 510.19,174.09 511.09,174.91 512.00,175.71 512.92,176.51 513.84,177.30 514.78,178.07 515.72,178.83 516.68,179.58 517.64,180.32 518.62,181.03 519.62,181.74 520.63,182.43 521.65,183.10 522.69,183.75 523.75,184.38 524.83,185.00 525.92,185.60 527.03,186.19 528.15,186.76 529.28,187.31 530.43,187.85 531.59,188.38 532.76,188.89 533.95,189.39 535.14,189.87 536.35,190.35 537.56,190.81 538.78,191.26 540.02,191.70 541.26,192.13 542.51,192.56 543.76,192.97 545.03,193.37 546.29,193.77 547.57,194.15 548.85,194.54 550.13,194.91 551.41,195.28 552.70,195.64 553.99,196.00 555.29,196.35 556.58,196.70 557.88,197.04 559.17,197.38 560.47,197.72 561.76,198.06 563.06,198.39 564.35,198.72 565.64,199.05 566.93,199.37 568.23,199.70 569.52,200.02 570.81,200.34 572.10,200.65 573.39,200.97 574.68,201.28 575.97,201.59 577.25,201.89 578.54,202.20 579.83,202.50 581.12,202.80 582.41,203.10 583.69,203.39 584.98,203.68 586.27,203.97 587.55,204.26 588.84,204.54 590.12,204.82 591.41,205.10 592.70,205.38 593.98,205.65 595.27,205.92 596.55,206.19 597.84,206.46 599.12,206.72 600.41,206.99 601.69,207.25 602.98,207.50 604.26,207.76 605.55,208.01 606.83,208.26 608.12,208.51 609.41,208.75 610.69,208.99 611.98,209.23 613.26,209.47 614.55,209.70 615.84,209.94 617.13,210.17 618.41,210.39 619.70,210.62 620.99,210.84 622.28,211.06 623.57,211.28 624.86,211.49 626.15,211.70 627.44,211.91 628.73,212.12 630.02,212.33 631.31,212.53 632.60,212.73 633.89,212.93 635.19,213.12 636.48,213.32 637.78,213.51 639.07,213.69 640.37,213.88 641.66,214.06 642.96,214.24 644.26,214.42 645.56,214.59 646.86,214.77 648.16,214.94 649.46,215.11 650.76,215.27 652.06,215.43 653.36,215.59 654.67,215.75 655.97,215.91 657.28,216.06 658.59,216.21 659.90,216.36 661.20,216.51 662.52,216.65 663.83,216.79 665.14,216.93 666.45,217.06 667.77,217.20 669.08,217.33 670.40,217.46 671.72,217.58 673.03,217.71 674.35,217.83 675.68,217.95 677.00,218.06 678.32,218.17 679.65,218.29 680.97,218.39 682.30,218.50"/><polyline stroke="#7E2F8E" points="397.30,93.70 398.18,91.80 398.98,90.05 399.71,88.43 400.37,86.94 400.97,85.56 401.52,84.29 402.02,83.11 402.48,82.00 402.90,80.97 403.29,79.99 403.66,79.05 404.01,78.15 404.34,77.27 404.67,76.40 405.00,75.53 405.33,74.65 405.67,73.74 406.03,72.79 406.41,71.80 406.81,70.76 407.24,69.68 407.68,68.56 408.14,67.40 408.62,66.21 409.11,64.99 409.62,63.74 410.15,62.47 410.68,61.17 411.23,59.86 411.79,58.53 412.35,57.18 412.93,55.83 413.51,54.46 414.10,53.10 414.69,51.73 415.29,50.36 415.89,49.00 416.49,47.64 417.09,46.30 417.69,44.97 418.29,43.65 418.88,42.35 419.48,41.07 420.08,39.79 420.68,38.52 421.29,37.25 421.92,35.97 422.56,34.69 423.22,33.40 423.90,32.08 424.60,30.75 425.33,29.39 426.09,28.01 426.94,26.67 427.90,25.42 429.03,24.34 430.32,23.50 431.66,23.04 432.93,23.08 434.07,23.63 435.12,24.52 436.10,25.58 437.05,26.67 437.97,27.79 438.86,28.94 439.71,30.11 440.54,31.30 441.34,32.52 442.11,33.75 442.86,35.00 443.59,36.27 444.29,37.56 444.96,38.86 445.62,40.18 446.26,41.50 446.88,42.84 447.48,44.19 448.06,45.54 448.63,46.91 449.18,48.28 449.72,49.65 450.24,51.03 450.76,52.41 451.26,53.79 451.76,55.17 452.25,56.55 452.72,57.92 453.20,59.29 453.67,60.66 454.13,62.02 454.59,63.37 455.04,64.72 455.50,66.06 455.95,67.40 456.40,68.73 456.85,70.05 457.29,71.38 457.74,72.69 458.18,74.00 458.63,75.31 459.08,76.62 459.53,77.92 459.98,79.21 460.43,80.51 460.88,81.80 461.34,83.09 461.80,84.37 462.27,85.65 462.74,86.93 463.22,88.21 463.70,89.48 464.19,90.76 464.68,92.03 465.18,93.30 465.69,94.57 466.21,95.83 466.74,97.10 467.27,98.37 467.81,99.63 468.37,100.90 468.93,102.16 469.50,103.43 470.09,104.69 470.68,105.95 471.28,107.22 471.89,108.48 472.52,109.73 473.15,110.99 473.79,112.25 474.44,113.50 475.10,114.75 475.77,116.00 476.45,117.24 477.14,118.49 477.84,119.73 478.55,120.97 479.26,122.20 479.99,123.43 480.73,124.66 481.47,125.88 482.23,127.10 482.99,128.32 483.76,129.53 484.54,130.73 485.34,131.93 486.14,133.13 486.95,134.32 487.77,135.51 488.59,136.69 489.43,137.87 490.28,139.04 491.13,140.20 492.00,141.36 492.87,142.51 493.75,143.66 494.64,144.80 495.54,145.93 496.45,147.05 497.37,148.17 498.29,149.28 499.23,150.39 500.17,151.48 501.13,152.57 502.09,153.65 503.06,154.72 504.03,155.78 505.02,156.84 506.02,157.89 507.02,158.92 508.03,159.95 509.05,160.97 510.08,161.98 511.12,162.98 512.17,163.97 513.22,164.95 514.29,165.92 515.36,166.88 516.44,167.83 517.52,168.77 518.62,169.70 519.73,170.62 520.84,171.52 521.96,172.42 523.09,173.30 524.22,174.17 525.37,175.03 526.52,175.88 527.68,176.71 528.85,177.54 530.03,178.35 531.22,179.15 532.41,179.93 533.61,180.70 534.82,181.46 536.03,182.21 537.26,182.94 538.49,183.66 539.73,184.36 540.98,185.06 542.23,185.74 543.49,186.41 544.76,187.06 546.03,187.71 547.32,188.34 548.60,188.96 549.90,189.57 551.20,190.16 552.51,190.75 553.82,191.32 555.14,191.89 556.47,192.44 557.80,192.98 559.14,193.51 560.48,194.03 561.83,194.54 563.18,195.05 564.54,195.54 565.90,196.02 567.27,196.49 568.65,196.95 570.02,197.41 571.41,197.85 572.79,198.29 574.19,198.71 575.58,199.13 576.98,199.54 578.39,199.94 579.79,200.34 581.21,200.72 582.62,201.10 584.04,201.47 585.46,201.84 586.89,202.19 588.32,202.54 589.75,202.88 591.18,203.22 592.62,203.55 594.06,203.87 595.51,204.18 596.95,204.49 598.40,204.80 599.85,205.10 601.30,205.39 602.76,205.68 604.21,205.96 605.67,206.24 607.13,206.51 608.59,206.78 610.05,207.04 611.52,207.30 612.98,207.55 614.45,207.80 615.91,208.05 617.38,208.29 618.85,208.53 620.32,208.76 621.79,208.99 623.25,209.22 624.72,209.45 626.19,209.67 627.66,209.89 629.13,210.11 630.60,210.33 632.07,210.54 633.54,210.75 635.01,210.96 636.47,211.17 637.94,211.37 639.40,211.58 640.87,211.78 642.33,211.99 643.79,212.19 645.25,212.39 646.71,212.59 648.16,212.79 649.62,212.99 651.07,213.19 652.52,213.39 653.97,213.59 655.41,213.79 656.86,213.99 658.30,214.20 659.74,214.40 661.17,214.61 662.60,214.81 664.03,215.02 665.46,215.23 666.88,215.44 668.30,215.65 669.72,215.87 671.13,216.08 672.54,216.30 673.94,216.52 675.34,216.75 676.74,216.98 678.13,217.21 679.52,217.44 680.90,217.68 682.28,217.92"/><polyline stroke="#77AC30" points="397.61,116.20 398.31,114.80 399.01,113.39 399.70,111.98 400.40,110.57 401.09,109.16 401.79,107.75 402.48,106.33 403.16,104.92 403.85,103.50 404.53,102.09 405.21,100.67 405.88,99.25 406.56,97.82 407.22,96.40 407.89,94.97 408.55,93.55 409.21,92.12 409.86,90.68 410.50,89.25 411.15,87.82 411.78,86.38 412.41,84.94 413.04,83.50 413.66,82.06 414.28,80.61 414.88,79.16 415.49,77.71 416.08,76.26 416.67,74.80 417.25,73.35 417.83,71.89 418.39,70.43 418.95,68.96 419.51,67.49 420.05,66.02 420.59,64.55 421.12,63.08 421.63,61.60 422.14,60.12 422.65,58.63 423.14,57.14 423.62,55.65 424.10,54.16 424.56,52.67 425.01,51.17 425.46,49.66 425.89,48.16 426.31,46.65 426.73,45.14 427.14,43.63 427.56,42.11 427.97,40.60 428.39,39.09 428.82,37.58 429.25,36.07 429.70,34.57 430.17,33.07 430.65,31.58 431.16,30.09 431.68,28.61 432.24,27.13 432.82,25.67 433.44,24.21 434.09,22.76 434.78,21.33 435.51,19.90 436.29,18.49 437.11,17.08 437.97,15.70 438.89,14.33 439.87,12.99 440.90,11.75 442.00,10.70 443.16,9.89 444.39,9.42 445.70,9.35 447.04,9.70 448.34,10.42 449.53,11.46 450.61,12.71 451.60,14.09 452.53,15.51 453.39,16.93 454.20,18.36 454.95,19.80 455.66,21.24 456.32,22.69 456.94,24.13 457.52,25.58 458.07,27.04 458.59,28.49 459.08,29.95 459.55,31.41 460.00,32.87 460.43,34.33 460.86,35.78 461.28,37.24 461.69,38.69 462.10,40.15 462.51,41.60 462.92,43.04 463.32,44.49 463.73,45.94 464.13,47.38 464.54,48.83 464.94,50.27 465.35,51.71 465.76,53.15 466.17,54.59 466.58,56.03 466.99,57.47 467.41,58.91 467.83,60.35 468.25,61.79 468.67,63.23 469.11,64.67 469.54,66.11 469.98,67.55 470.43,68.99 470.88,70.43 471.34,71.88 471.81,73.32 472.28,74.77 472.76,76.21 473.25,77.66 473.74,79.10 474.24,80.55 474.75,81.99 475.26,83.44 475.79,84.88 476.32,86.33 476.85,87.77 477.40,89.21 477.95,90.65 478.51,92.09 479.08,93.53 479.65,94.96 480.24,96.40 480.83,97.83 481.43,99.26 482.04,100.68 482.65,102.10 483.27,103.52 483.91,104.94 484.55,106.35 485.20,107.76 485.85,109.17 486.52,110.57 487.19,111.96 487.87,113.36 488.57,114.74 489.27,116.13 489.97,117.50 490.69,118.88 491.42,120.24 492.16,121.61 492.90,122.96 493.65,124.31 494.42,125.65 495.19,126.99 495.97,128.32 496.76,129.65 497.56,130.96 498.37,132.27 499.19,133.57 500.02,134.87 500.86,136.15 501.71,137.43 502.57,138.70 503.44,139.97 504.32,141.22 505.21,142.46 506.11,143.70 507.02,144.93 507.94,146.14 508.87,147.35 509.81,148.55 510.76,149.74 511.72,150.92 512.69,152.09 513.67,153.24 514.67,154.39 515.67,155.53 516.69,156.65 517.71,157.76 518.75,158.87 519.80,159.96 520.86,161.03 521.93,162.10 523.01,163.16 524.10,164.20 525.20,165.23 526.32,166.24 527.45,167.25 528.59,168.24 529.74,169.21 530.90,170.18 532.07,171.12 533.26,172.06 534.45,172.98 535.66,173.89 536.89,174.78 538.12,175.66 539.36,176.52 540.62,177.37 541.89,178.21 543.16,179.03 544.45,179.84 545.75,180.64 547.06,181.42 548.38,182.19 549.71,182.95 551.05,183.69 552.40,184.42 553.75,185.14 555.12,185.85 556.50,186.55 557.88,187.23 559.28,187.90 560.68,188.56 562.09,189.21 563.51,189.84 564.93,190.47 566.37,191.08 567.81,191.69 569.26,192.28 570.72,192.86 572.18,193.43 573.65,193.99 575.13,194.54 576.61,195.08 578.10,195.61 579.59,196.13 581.09,196.64 582.60,197.14 584.11,197.63 585.63,198.12 587.15,198.59 588.68,199.05 590.21,199.51 591.75,199.95 593.29,200.39 594.84,200.82 596.39,201.24 597.94,201.66 599.50,202.06 601.06,202.46 602.62,202.85 604.19,203.23 605.76,203.61 607.33,203.97 608.90,204.33 610.48,204.69 612.06,205.03 613.64,205.37 615.22,205.71 616.81,206.03 618.39,206.35 619.98,206.67 621.57,206.98 623.16,207.28 624.75,207.58 626.34,207.87 627.93,208.16 629.52,208.44 631.11,208.71 632.69,208.98 634.28,209.25 635.87,209.51 637.46,209.77 639.05,210.02 640.63,210.27 642.22,210.51 643.80,210.75 645.38,210.99 646.96,211.22 648.53,211.45 650.11,211.68 651.68,211.90 653.25,212.12 654.81,212.34 656.37,212.55 657.93,212.76 659.49,212.97 661.04,213.18 662.59,213.38 664.13,213.58 665.67,213.78 667.21,213.98 668.74,214.18 670.27,214.37 671.79,214.57 673.30,214.76 674.82,214.95 676.32,215.14 677.82,215.33 679.31,215.52 680.80,215.71 682.28,215.90"/></g><g><line x1="54.5" y1="239" x2="54.5" y2="236" stroke="#7a7a7a" stroke-width="1"/><line x1="54.5" y1="7" x2="54.5" y2="9" stroke="#7a7a7a" stroke-width="1"/><line x1="110.5" y1="239" x2="110.5" y2="236" stroke="#7a7a7a" stroke-width="1"/><line x1="110.5" y1="7" x2="110.5" y2="9" stroke="#7a7a7a" stroke-width="1"/><line x1="166.5" y1="239" x2="166.5" y2="236" stroke="#7a7a7a" stroke-width="1"/><line x1="166.5" y1="7" x2="166.5" y2="9" stroke="#7a7a7a" stroke-width="1"/><line x1="222.5" y1="239" x2="222.5" y2="236" stroke="#7a7a7a" stroke-width="1"/><line x1="222.5" y1="7" x2="222.5" y2="9" stroke="#7a7a7a" stroke-width="1"/><line x1="278.5" y1="239" x2="278.5" y2="236" stroke="#7a7a7a" stroke-width="1"/><line x1="278.5" y1="7" x2="278.5" y2="9" stroke="#7a7a7a" stroke-width="1"/><line x1="334.5" y1="239" x2="334.5" y2="236" stroke="#7a7a7a" stroke-width="1"/><line x1="334.5" y1="7" x2="334.5" y2="9" stroke="#7a7a7a" stroke-width="1"/><line x1="54.5" y1="239.5" x2="57.3" y2="239.5" stroke="#7a7a7a" stroke-width="1"/><line x1="334" y1="239.5" x2="331.5" y2="239.5" stroke="#7a7a7a" stroke-width="1"/><line x1="54.5" y1="200.5" x2="57.3" y2="200.5" stroke="#7a7a7a" stroke-width="1"/><line x1="334" y1="200.5" x2="331.5" y2="200.5" stroke="#7a7a7a" stroke-width="1"/><line x1="54.5" y1="161.5" x2="57.3" y2="161.5" stroke="#7a7a7a" stroke-width="1"/><line x1="334" y1="161.5" x2="331.5" y2="161.5" stroke="#7a7a7a" stroke-width="1"/><line x1="54.5" y1="122.5" x2="57.3" y2="122.5" stroke="#7a7a7a" stroke-width="1"/><line x1="334" y1="122.5" x2="331.5" y2="122.5" stroke="#7a7a7a" stroke-width="1"/><line x1="54.5" y1="84.5" x2="57.3" y2="84.5" stroke="#7a7a7a" stroke-width="1"/><line x1="334" y1="84.5" x2="331.5" y2="84.5" stroke="#7a7a7a" stroke-width="1"/><line x1="54.5" y1="45.5" x2="57.3" y2="45.5" stroke="#7a7a7a" stroke-width="1"/><line x1="334" y1="45.5" x2="331.5" y2="45.5" stroke="#7a7a7a" stroke-width="1"/><line x1="54.5" y1="6.5" x2="57.3" y2="6.5" stroke="#7a7a7a" stroke-width="1"/><line x1="334" y1="6.5" x2="331.5" y2="6.5" stroke="#7a7a7a" stroke-width="1"/><line x1="394.5" y1="239" x2="394.5" y2="236" stroke="#7a7a7a" stroke-width="1"/><line x1="394.5" y1="7" x2="394.5" y2="9" stroke="#7a7a7a" stroke-width="1"/><line x1="452.5" y1="239" x2="452.5" y2="236" stroke="#7a7a7a" stroke-width="1"/><line x1="452.5" y1="7" x2="452.5" y2="9" stroke="#7a7a7a" stroke-width="1"/><line x1="509.5" y1="239" x2="509.5" y2="236" stroke="#7a7a7a" stroke-width="1"/><line x1="509.5" y1="7" x2="509.5" y2="9" stroke="#7a7a7a" stroke-width="1"/><line x1="567.5" y1="239" x2="567.5" y2="236" stroke="#7a7a7a" stroke-width="1"/><line x1="567.5" y1="7" x2="567.5" y2="9" stroke="#7a7a7a" stroke-width="1"/><line x1="624.5" y1="239" x2="624.5" y2="236" stroke="#7a7a7a" stroke-width="1"/><line x1="624.5" y1="7" x2="624.5" y2="9" stroke="#7a7a7a" stroke-width="1"/><line x1="682.5" y1="239" x2="682.5" y2="236" stroke="#7a7a7a" stroke-width="1"/><line x1="682.5" y1="7" x2="682.5" y2="9" stroke="#7a7a7a" stroke-width="1"/><line x1="394.5" y1="239.5" x2="397.3" y2="239.5" stroke="#7a7a7a" stroke-width="1"/><line x1="682" y1="239.5" x2="679.5" y2="239.5" stroke="#7a7a7a" stroke-width="1"/><line x1="394.5" y1="192.5" x2="397.3" y2="192.5" stroke="#7a7a7a" stroke-width="1"/><line x1="682" y1="192.5" x2="679.5" y2="192.5" stroke="#7a7a7a" stroke-width="1"/><line x1="394.5" y1="146.5" x2="397.3" y2="146.5" stroke="#7a7a7a" stroke-width="1"/><line x1="682" y1="146.5" x2="679.5" y2="146.5" stroke="#7a7a7a" stroke-width="1"/><line x1="394.5" y1="99.5" x2="397.3" y2="99.5" stroke="#7a7a7a" stroke-width="1"/><line x1="682" y1="99.5" x2="679.5" y2="99.5" stroke="#7a7a7a" stroke-width="1"/><line x1="394.5" y1="53.5" x2="397.3" y2="53.5" stroke="#7a7a7a" stroke-width="1"/><line x1="682" y1="53.5" x2="679.5" y2="53.5" stroke="#7a7a7a" stroke-width="1"/><line x1="394.5" y1="6.5" x2="397.3" y2="6.5" stroke="#7a7a7a" stroke-width="1"/><line x1="682" y1="6.5" x2="679.5" y2="6.5" stroke="#7a7a7a" stroke-width="1"/><line x1="53.5" y1="6.5" x2="335" y2="6.5" stroke="#3c3c3c" stroke-width="1"/><line x1="53.5" y1="239.5" x2="335" y2="239.5" stroke="#4a4a4a" stroke-width="1"/><line x1="54.0" y1="6" x2="54.0" y2="240" stroke="#3a3a3a" stroke-width="1"/><line x1="334.5" y1="6" x2="334.5" y2="240" stroke="#7c7c7c" stroke-width="1"/><line x1="394" y1="6.5" x2="683" y2="6.5" stroke="#3c3c3c" stroke-width="1"/><line x1="394" y1="239.5" x2="683" y2="239.5" stroke="#4a4a4a" stroke-width="1"/><line x1="394.5" y1="6" x2="394.5" y2="240" stroke="#5a5a5a" stroke-width="1"/><line x1="682.5" y1="6" x2="682.5" y2="240" stroke="#6e6e6e" stroke-width="1"/></g><line x1="246.3" x2="277.3" y1="18.2" y2="18.2" stroke="#0072BD" stroke-width="2.3"/><line x1="246.3" x2="277.3" y1="28.3" y2="28.3" stroke="#D95319" stroke-width="2.3"/><line x1="246.3" x2="277.3" y1="38.4" y2="38.4" stroke="#EDB120" stroke-width="2.3"/><line x1="246.3" x2="277.3" y1="48.5" y2="48.5" stroke="#7E2F8E" stroke-width="2.3"/><line x1="246.3" x2="277.3" y1="58.6" y2="58.6" stroke="#77AC30" stroke-width="2.3"/><line x1="246.3" x2="277.3" y1="68.7" y2="68.7" stroke="#4DBEEE" stroke-width="2.3"/><line x1="246.3" x2="277.3" y1="78.8" y2="78.8" stroke="#A2142F" stroke-width="2.3"/><line x1="581.3" x2="613.8" y1="24.2" y2="24.2" stroke="#0072BD" stroke-width="2.3"/><line x1="581.3" x2="613.8" y1="37.5" y2="37.5" stroke="#D95319" stroke-width="2.3"/><line x1="581.3" x2="613.8" y1="50.8" y2="50.8" stroke="#EDB120" stroke-width="2.3"/><line x1="581.3" x2="613.8" y1="64.1" y2="64.1" stroke="#7E2F8E" stroke-width="2.3"/><line x1="581.3" x2="613.8" y1="77.4" y2="77.4" stroke="#77AC30" stroke-width="2.3"/><g font-family="Liberation Sans" font-size="15" fill="#000"><polygon points="46.72,245.00 48.04,245.00 48.04,233.93 47.04,233.93 46.71,234.68 46.14,235.36 45.28,235.79 44.17,235.99 44.17,237.00 46.72,237.00"/><polygon points="25.88,206.17 27.20,206.17 27.20,195.09 26.19,195.09 25.86,195.85 25.29,196.53 24.44,196.95 23.33,197.16 23.33,198.17 25.88,198.17"/><text transform="translate(30.15,206.17) scale(1.0,1.05)">.</text><text transform="translate(34.32,206.17) scale(1.0,1.05)">0</text><text transform="translate(42.66,206.17) scale(1.0,1.05)">2</text><polygon points="25.88,167.33 27.20,167.33 27.20,156.26 26.19,156.26 25.86,157.02 25.29,157.69 24.44,158.12 23.33,158.32 23.33,159.33 25.88,159.33"/><text transform="translate(30.15,167.33) scale(1.0,1.05)">.</text><text transform="translate(34.32,167.33) scale(1.0,1.05)">0</text><text transform="translate(42.66,167.33) scale(1.0,1.05)">4</text><polygon points="25.88,128.50 27.20,128.50 27.20,117.43 26.19,117.43 25.86,118.18 25.29,118.86 24.44,119.29 23.33,119.49 23.33,120.50 25.88,120.50"/><text transform="translate(30.15,128.50) scale(1.0,1.05)">.</text><text transform="translate(34.32,128.50) scale(1.0,1.05)">0</text><text transform="translate(42.66,128.50) scale(1.0,1.05)">6</text><polygon points="25.88,89.67 27.20,89.67 27.20,78.59 26.19,78.59 25.86,79.35 25.29,80.03 24.44,80.45 23.33,80.66 23.33,81.67 25.88,81.67"/><text transform="translate(30.15,89.67) scale(1.0,1.05)">.</text><text transform="translate(34.32,89.67) scale(1.0,1.05)">0</text><text transform="translate(42.66,89.67) scale(1.0,1.05)">8</text><polygon points="34.21,50.83 35.53,50.83 35.53,39.76 34.53,39.76 34.20,40.52 33.63,41.19 32.77,41.62 31.66,41.82 31.66,42.83 34.21,42.83"/><text transform="translate(38.49,50.83) scale(1.0,1.05)">.</text><polygon points="46.72,50.83 48.04,50.83 48.04,39.76 47.04,39.76 46.71,40.52 46.14,41.19 45.28,41.62 44.17,41.82 44.17,42.83 46.72,42.83"/><polygon points="25.88,12.00 27.20,12.00 27.20,0.93 26.19,0.93 25.86,1.68 25.29,2.36 24.44,2.79 23.33,2.99 23.33,4.00 25.88,4.00"/><text transform="translate(30.15,12.00) scale(1.0,1.05)">.</text><polygon points="38.38,12.00 39.70,12.00 39.70,0.93 38.70,0.93 38.37,1.68 37.80,2.36 36.95,2.79 35.84,2.99 35.84,4.00 38.38,4.00"/><text transform="translate(42.66,12.00) scale(1.0,1.05)">2</text><text transform="translate(50.33,256.60) scale(1.0,1.05)">0</text><text transform="translate(100.08,256.60) scale(1.0,1.05)">0</text><text transform="translate(108.42,256.60) scale(1.0,1.05)">.</text><text transform="translate(112.59,256.60) scale(1.0,1.05)">2</text><text transform="translate(156.07,256.60) scale(1.0,1.05)">0</text><text transform="translate(164.41,256.60) scale(1.0,1.05)">.</text><text transform="translate(168.58,256.60) scale(1.0,1.05)">4</text><text transform="translate(212.07,256.60) scale(1.0,1.05)">0</text><text transform="translate(220.41,256.60) scale(1.0,1.05)">.</text><text transform="translate(224.58,256.60) scale(1.0,1.05)">6</text><text transform="translate(268.07,256.60) scale(1.0,1.05)">0</text><text transform="translate(276.41,256.60) scale(1.0,1.05)">.</text><text transform="translate(280.58,256.60) scale(1.0,1.05)">8</text><polygon points="334.39,256.60 335.71,256.60 335.71,245.53 334.71,245.53 334.38,246.28 333.81,246.96 332.95,247.39 331.84,247.59 331.84,248.60 334.39,248.60"/><text transform="translate(383.26,245.00) scale(1.0,1.05)">0</text><text transform="translate(370.75,198.40) scale(1.0,1.05)">0</text><text transform="translate(379.09,198.40) scale(1.0,1.05)">.</text><text transform="translate(383.26,198.40) scale(1.0,1.05)">5</text><polygon points="387.33,151.80 388.65,151.80 388.65,140.73 387.64,140.73 387.31,141.48 386.74,142.16 385.89,142.59 384.78,142.79 384.78,143.80 387.33,143.80"/><polygon points="374.81,105.20 376.13,105.20 376.13,94.13 375.13,94.13 374.80,94.88 374.23,95.56 373.38,95.99 372.26,96.19 372.26,97.20 374.81,97.20"/><text transform="translate(379.09,105.20) scale(1.0,1.05)">.</text><text transform="translate(383.26,105.20) scale(1.0,1.05)">5</text><text transform="translate(383.26,58.60) scale(1.0,1.05)">2</text><text transform="translate(370.75,12.00) scale(1.0,1.05)">2</text><text transform="translate(379.09,12.00) scale(1.0,1.05)">.</text><text transform="translate(383.26,12.00) scale(1.0,1.05)">5</text><text transform="translate(390.33,256.60) scale(1.0,1.05)">0</text><text transform="translate(441.68,256.60) scale(1.0,1.05)">0</text><text transform="translate(450.01,256.60) scale(1.0,1.05)">.</text><text transform="translate(454.19,256.60) scale(1.0,1.05)">2</text><text transform="translate(499.27,256.60) scale(1.0,1.05)">0</text><text transform="translate(507.61,256.60) scale(1.0,1.05)">.</text><text transform="translate(511.78,256.60) scale(1.0,1.05)">4</text><text transform="translate(556.88,256.60) scale(1.0,1.05)">0</text><text transform="translate(565.22,256.60) scale(1.0,1.05)">.</text><text transform="translate(569.38,256.60) scale(1.0,1.05)">6</text><text transform="translate(614.48,256.60) scale(1.0,1.05)">0</text><text transform="translate(622.82,256.60) scale(1.0,1.05)">.</text><text transform="translate(626.99,256.60) scale(1.0,1.05)">8</text><polygon points="682.40,256.60 683.72,256.60 683.72,245.53 682.71,245.53 682.38,246.28 681.81,246.96 680.96,247.39 679.85,247.59 679.85,248.60 682.40,248.60"/></g><g font-family="Liberation Serif" font-size="22" fill="#000" text-anchor="middle"><text transform="translate(193.0,277.8) scale(1.2,1)">α</text><text transform="translate(535.4,277.8) scale(1.2,1)">α</text></g><g font-family="Liberation Sans" font-size="18" fill="#000" text-anchor="middle"><text transform="translate(14.2,123.5) rotate(-90)">G</text><text transform="translate(363,123.3) rotate(-90)">G</text></g><g font-family="Liberation Serif" font-size="16.5" fill="#000" text-anchor="middle"><text x="189.6" y="301.2">(a)</text><text x="537.9" y="301.2">(b)</text></g><g font-family="Liberation Serif" font-size="14.2" fill="#333"><text transform="translate(280.3,22.60) scale(1.12,1)" font-style="italic" font-size="14" fill="#555">ε</text><rect x="291.3" y="17.10" width="9.8" height="0.9" fill="#555"/><rect x="291.3" y="19.70" width="9.8" height="0.9" fill="#555"/><text transform="translate(304.3,23.10) scale(1.15,1)">0</text><text transform="translate(280.3,32.70) scale(1.12,1)" font-style="italic" font-size="14" fill="#555">ε</text><rect x="291.3" y="27.20" width="9.8" height="0.9" fill="#555"/><rect x="291.3" y="29.80" width="9.8" height="0.9" fill="#555"/><text transform="translate(304.3,33.20) scale(1.15,1)">0.2</text><text transform="translate(280.3,42.80) scale(1.12,1)" font-style="italic" font-size="14" fill="#555">ε</text><rect x="291.3" y="37.30" width="9.8" height="0.9" fill="#555"/><rect x="291.3" y="39.90" width="9.8" height="0.9" fill="#555"/><text transform="translate(304.3,43.30) scale(1.15,1)">0.5</text><text transform="translate(280.3,52.90) scale(1.12,1)" font-style="italic" font-size="14" fill="#555">ε</text><rect x="291.3" y="47.40" width="9.8" height="0.9" fill="#555"/><rect x="291.3" y="50.00" width="9.8" height="0.9" fill="#555"/><text transform="translate(304.3,53.40) scale(1.15,1)">1</text><text transform="translate(280.3,63.00) scale(1.12,1)" font-style="italic" font-size="14" fill="#555">ε</text><rect x="291.3" y="57.50" width="9.8" height="0.9" fill="#555"/><rect x="291.3" y="60.10" width="9.8" height="0.9" fill="#555"/><text transform="translate(304.3,63.50) scale(1.15,1)">3</text><text transform="translate(280.3,73.10) scale(1.12,1)" font-style="italic" font-size="14" fill="#555">ε</text><rect x="291.3" y="67.60" width="9.8" height="0.9" fill="#555"/><rect x="291.3" y="70.20" width="9.8" height="0.9" fill="#555"/><text transform="translate(304.3,73.60) scale(1.15,1)">5</text><text transform="translate(280.3,83.20) scale(1.12,1)" font-style="italic" font-size="14" fill="#555">ε</text><rect x="291.3" y="77.70" width="9.8" height="0.9" fill="#555"/><rect x="291.3" y="80.30" width="9.8" height="0.9" fill="#555"/><text transform="translate(304.3,83.70) scale(1.15,1)">20</text></g><g font-family="Liberation Serif" font-size="14.5" fill="#333"><text transform="translate(616.4,29.60) scale(1.4,1)" font-style="italic" font-size="14" fill="#555">τ</text><rect x="628.9" y="23.60" width="9.1" height="0.9" fill="#555"/><rect x="628.9" y="26.30" width="9.1" height="0.9" fill="#555"/><text transform="translate(641.8,29.80) scale(1.05,1)">0</text><text transform="translate(616.4,42.90) scale(1.4,1)" font-style="italic" font-size="14" fill="#555">τ</text><rect x="628.9" y="36.90" width="9.1" height="0.9" fill="#555"/><rect x="628.9" y="39.60" width="9.1" height="0.9" fill="#555"/><text transform="translate(641.8,43.10) scale(1.05,1)">0.05</text><text transform="translate(616.4,56.20) scale(1.4,1)" font-style="italic" font-size="14" fill="#555">τ</text><rect x="628.9" y="50.20" width="9.1" height="0.9" fill="#555"/><rect x="628.9" y="52.90" width="9.1" height="0.9" fill="#555"/><text transform="translate(641.8,56.40) scale(1.05,1)">0.1</text><text transform="translate(616.4,69.50) scale(1.4,1)" font-style="italic" font-size="14" fill="#555">τ</text><rect x="628.9" y="63.50" width="9.1" height="0.9" fill="#555"/><rect x="628.9" y="66.20" width="9.1" height="0.9" fill="#555"/><text transform="translate(641.8,69.70) scale(1.05,1)">0.2</text><text transform="translate(616.4,82.80) scale(1.4,1)" font-style="italic" font-size="14" fill="#555">τ</text><rect x="628.9" y="76.80" width="9.1" height="0.9" fill="#555"/><rect x="628.9" y="79.50" width="9.1" height="0.9" fill="#555"/><text transform="translate(641.8,83.00) scale(1.05,1)">0.3</text></g></svg></body></html>
